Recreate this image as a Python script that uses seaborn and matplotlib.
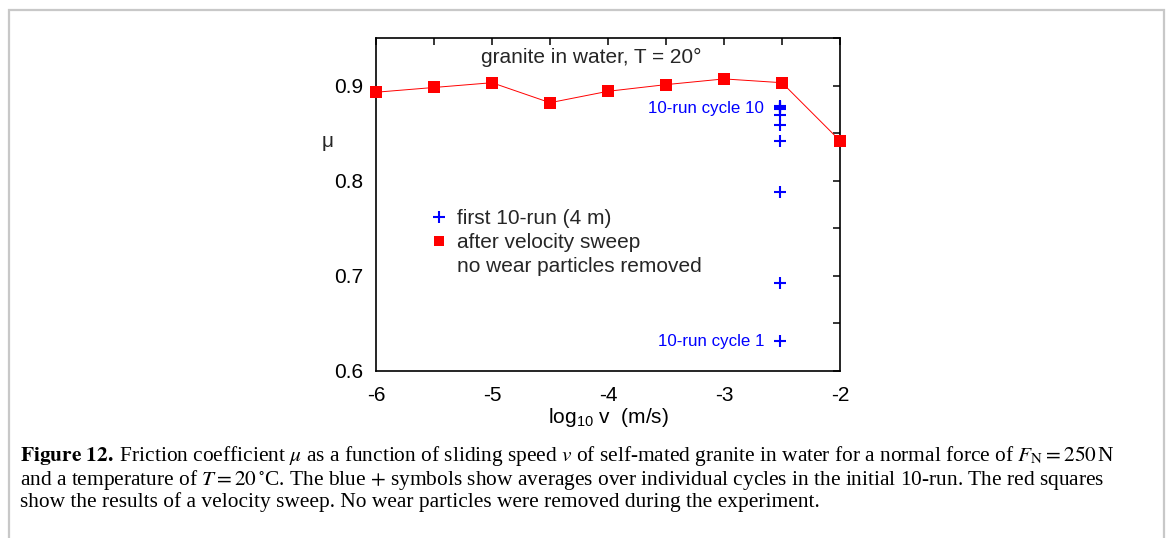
import matplotlib
matplotlib.use("Agg")
import matplotlib.pyplot as plt
from matplotlib.lines import Line2D
from matplotlib.patches import Rectangle
from matplotlib.ticker import MultipleLocator, FuncFormatter
import seaborn as sns
import pandas as pd

# ---- data ----
log_v_sweep = [-6.0, -5.5, -5.0, -4.5, -4.0, -3.5, -3.0, -2.5, -2.0]
mu_sweep = [0.893, 0.898, 0.903, 0.882, 0.894, 0.901, 0.907, 0.903, 0.842]
log_v_run = [-2.52, -2.52, -2.52, -2.52, -2.52, -2.52, -2.52, -2.52, -2.52, -2.52]
mu_run = [0.632, 0.692, 0.788, 0.842, 0.859, 0.869, 0.875, 0.877, 0.878, 0.879]
x_tick_labels = ["-6", "-5", "-4", "-3", "-2"]
y_tick_labels = ["0.6", "0.7", "0.8", "0.9"]

sns.set_theme(style="white")
plt.rcParams["font.family"] = ["Liberation Sans", "DejaVu Sans"]
plt.rcParams["mathtext.fontset"] = "custom"
plt.rcParams["mathtext.rm"] = "Liberation Sans"
plt.rcParams["mathtext.it"] = "Liberation Sans:italic"
plt.rcParams["mathtext.bf"] = "Liberation Sans:bold"

W, H = 1168, 538
FS = 15
fig = plt.figure(figsize=(W / 100, H / 100), dpi=100)
fig.patch.set_facecolor("white")

ax = fig.add_axes([376 / W, 1 - 371 / H, (840 - 376) / W, (371 - 38) / H])

df_sweep = pd.DataFrame({"x": log_v_sweep, "mu": mu_sweep})
df_run = pd.DataFrame({"x": log_v_run, "mu": mu_run})

sns.lineplot(data=df_sweep, x="x", y="mu", ax=ax, color="#ff0000", linewidth=0.7,
             marker="s", markersize=8.2, markeredgewidth=0, zorder=3, clip_on=False)
sns.scatterplot(data=df_run, x="x", y="mu", ax=ax, color="#0000ff", marker="+",
                s=70, linewidth=1.5, zorder=4)

ax.set_xlim(-6, -2)
ax.set_ylim(0.6, 0.95)
ax.xaxis.set_major_locator(MultipleLocator(0.5))
ax.yaxis.set_major_locator(MultipleLocator(0.05))

def xfmt(v, pos):
    r = round(v)
    if abs(v - r) < 1e-6:
        lbl = str(int(r))
        return lbl if lbl in x_tick_labels else ""
    return ""

def yfmt(v, pos):
    lbl = f"{v:.1f}"
    if abs(v * 10 - round(v * 10)) < 1e-6 and lbl in y_tick_labels:
        return lbl
    return ""

ax.xaxis.set_major_formatter(FuncFormatter(xfmt))
ax.yaxis.set_major_formatter(FuncFormatter(yfmt))
ax.tick_params(axis="both", which="major", direction="in", length=5, width=1.1,
               top=True, right=True, labelsize=FS, colors="black")
ax.tick_params(axis="x", pad=10.5)
ax.tick_params(axis="y", pad=9.5)
for s in ax.spines.values():
    s.set_color("black")
    s.set_linewidth(1.2)
    s.set_visible(True)

ax.set_xlabel(r"log$_{10}$ v  (m/s)", fontsize=FS, labelpad=1, color="black")
ax.set_ylabel("")
ax.text(-6.42, 0.841, "\u03bc", fontsize=FS, ha="center", va="center")

ax.text(-4.142, 0.930, "granite in water, T = 20\u00b0", fontsize=FS, ha="center", va="center")
ax.text(-2.66, 0.876, "10-run cycle 10", fontsize=12.2, color="#0000ff", ha="right", va="center")
ax.text(-2.655, 0.631, "10-run cycle 1", fontsize=12.2, color="#0000ff", ha="right", va="center")

handles = [
    Line2D([], [], color="#0000ff", marker="+", linestyle="", markersize=8.4, markeredgewidth=1.5),
    Line2D([], [], color="#ff0000", marker="s", linestyle="", markersize=7.4, markeredgewidth=0),
    Line2D([], [], color="none", marker="", linestyle=""),
]
labels = ["first 10-run (4 m)", "after velocity sweep", "no wear particles removed"]
ax.legend(handles, labels, loc="upper left", bbox_to_anchor=(0.1185, 0.487), frameon=False,
          fontsize=FS, handlelength=0.8, handletextpad=0.45, labelspacing=0.25,
          borderpad=0, borderaxespad=0)

# caption
cap_kw = dict(fontsize=15.4, family="Liberation Serif", math_fontfamily="stix",
              ha="left", va="center", color="black")
fig.text(20 / W, 1 - 456.5 / H,
         r"$\mathbf{Figure\ 12.}\;$Friction coefficient $\mu$ as a function of sliding speed $v$ "
         r"of self-mated granite in water for a normal force of $F_{\mathrm{N}} = 250\,$N", **cap_kw)
fig.text(20 / W, 1 - 480.5 / H,
         r"and a temperature of $T = 20\,^{\circ}$C. The blue $+$ symbols show averages over "
         r"individual cycles in the initial 10-run. The red squares", **cap_kw)
fig.text(20 / W, 1 - 502.5 / H,
         "show the results of a velocity sweep. No wear particles were removed during the experiment.",
         **cap_kw)

# outer frame
fig.patches.append(Rectangle((9 / W, -0.05), (1164 - 9) / W, 1 - 10 / H + 0.05,
                             transform=fig.transFigure, fill=False,
                             edgecolor="#c8c8c8", linewidth=1.6, zorder=0))

fig.savefig("out.png", dpi=100, facecolor="white")
